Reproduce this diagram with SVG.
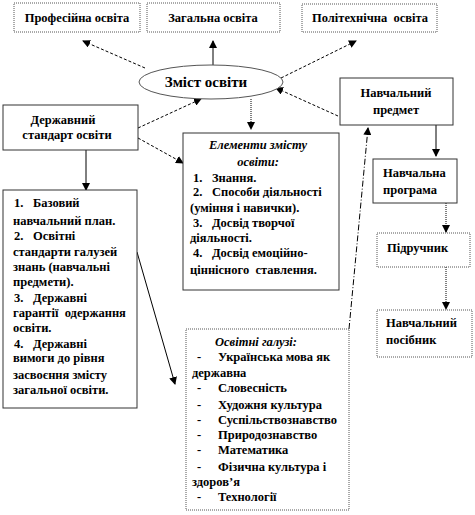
<svg xmlns="http://www.w3.org/2000/svg" width="475" height="515" viewBox="0 0 475 515">
<style>
text{font-family:'Liberation Serif','DejaVu Serif',serif;font-weight:bold;font-size:12.5px;fill:#000}
.c{text-anchor:middle}
.i{font-style:italic}
.box{fill:#fff;stroke:#333;stroke-width:1}
.dot{fill:#fff;stroke:#555;stroke-width:1;stroke-dasharray:1,1}
.ln{fill:none;stroke:#000;stroke-width:1}
.dash{stroke-dasharray:3,2}
.dotl{stroke-dasharray:1,1}
.dd{stroke-dasharray:6,2,1,2}
</style>
<defs>
<marker id="a" markerWidth="8" markerHeight="8" refX="7" refY="4" orient="auto" markerUnits="userSpaceOnUse">
<path d="M0,0 L8,4 L0,8 z" fill="#000"/>
</marker>
</defs>
<rect width="475" height="515" fill="#fff"/>
<g id="connectors">
<path class="ln dash" d="M145,68 L83,41" marker-end="url(#a)"/>
<path class="ln" d="M213,65 L213,41" marker-end="url(#a)"/>
<path class="ln dash" d="M281,78 L356,41" marker-end="url(#a)"/>
<path class="ln dash" d="M138,128 L201,99" marker-end="url(#a)"/>
<path class="ln dash" d="M138,138 L183,163" marker-end="url(#a)"/>
<path class="ln" d="M86,150 L86,190" marker-end="url(#a)"/>
<path class="ln" d="M137,252 L175,384" marker-end="url(#a)"/>
<path class="ln dotl" d="M251,99 L251,129" marker-end="url(#a)"/>
<path class="ln dash" d="M338,116 L276,88" marker-end="url(#a)"/>
<path class="ln dd" d="M349,329 L368,128" marker-end="url(#a)"/>
<path class="ln" d="M436,125 L436,156" marker-end="url(#a)"/>
<path class="ln dotl" d="M446,203 L446,232" marker-end="url(#a)"/>
<path class="ln dotl" d="M446,267 L446,309" marker-end="url(#a)"/>
</g>
<g id="prof">
<rect class="dot" x="14" y="3" width="126" height="29"/>
<text class="c" x="77" y="22">Професійна освіта</text>
</g>
<g id="zag">
<rect class="dot" x="147" y="3" width="133" height="29"/>
<text class="c" x="213" y="22">Загальна освіта</text>
</g>
<g id="polit">
<rect class="dot" x="302" y="4" width="135" height="28"/>
<text class="c" x="370" y="22" xml:space="preserve">Політехнічна  освіта</text>
</g>
<g id="zmist">
<ellipse cx="211" cy="82" rx="72" ry="17" fill="#fff" stroke="#555" stroke-width="1"/>
<text class="c" x="206" y="87" style="font-size:15px">Зміст освіти</text>
</g>
<g id="standart">
<rect class="box" x="3" y="105" width="135" height="45"/>
<text class="c" x="63" y="124">Державний</text>
<text class="c" x="67" y="139">стандарт освіти</text>
</g>
<g id="list">
<rect class="box" x="3" y="190" width="134" height="218"/>
<text x="14" y="207">1.</text><text x="33" y="207">Базовий</text>
<text x="13" y="225">навчальний план.</text>
<text x="14" y="240">2.</text><text x="33" y="240">Освітні</text>
<text x="13" y="256">стандарти галузей</text>
<text x="13" y="271">знань (навчальні</text>
<text x="13" y="286">предмети).</text>
<text x="14" y="302">3.</text><text x="33" y="302">Державні</text>
<text x="13" y="317" xml:space="preserve">гарантії  одержання</text>
<text x="13" y="332">освіти.</text>
<text x="14" y="348">4.</text><text x="33" y="348">Державні</text>
<text x="13" y="362">вимоги до рівня</text>
<text x="13" y="379">засвоєння змісту</text>
<text x="13" y="394">загальної освіти.</text>
</g>
<g id="elementy">
<rect class="box" x="183" y="133" width="156" height="157"/>
<text class="c i" x="258" y="149">Елементи змісту</text>
<text class="c i" x="258" y="166">освіти:</text>
<text x="193" y="182">1.</text><text x="212" y="182">Знання.</text>
<text x="193" y="196">2.</text><text x="212" y="196">Способи діяльності</text>
<text x="190" y="212">(уміння і навички).</text>
<text x="193" y="227">3.</text><text x="212" y="227">Досвід творчої</text>
<text x="190" y="242">діяльності.</text>
<text x="193" y="257">4.</text><text x="212" y="257">Досвід емоційно-</text>
<text x="190" y="274" xml:space="preserve">ціннісного  ставлення.</text>
</g>
<g id="predmet">
<rect class="box" x="340" y="78" width="113" height="47"/>
<text class="c" x="396" y="97">Навчальний</text>
<text class="c" x="396" y="114">предмет</text>
</g>
<g id="programa">
<rect class="box" x="373" y="159" width="84" height="44"/>
<text x="383" y="177">Навчальна</text>
<text x="383" y="194">програма</text>
</g>
<g id="pidruchnyk">
<rect class="dot" x="377" y="233" width="93" height="34"/>
<text x="387" y="252">Підручник</text>
</g>
<g id="posibnyk">
<rect class="dot" x="377" y="310" width="95" height="47"/>
<text x="386" y="327">Навчальний</text>
<text x="386" y="344">посібник</text>
</g>
<g id="haluzi">
<rect class="dot" x="186" y="329" width="163" height="181"/>
<text class="c i" x="256" y="346">Освітні галузі:</text>
<text x="197" y="361">-</text><text x="218" y="361">Українська мова як</text>
<text x="192" y="377">державна</text>
<text x="197" y="392">-</text><text x="218" y="392">Словесність</text>
<text x="197" y="409">-</text><text x="218" y="409">Художня культура</text>
<text x="197" y="424">-</text><text x="218" y="424">Суспільствознавство</text>
<text x="197" y="439">-</text><text x="218" y="439">Природознавство</text>
<text x="197" y="454">-</text><text x="218" y="454">Математика</text>
<text x="197" y="471">-</text><text x="218" y="471">Фізична культура і</text>
<text x="192" y="486">здоров’я</text>
<text x="197" y="501">-</text><text x="218" y="501">Технології</text>
</g>
</svg>
